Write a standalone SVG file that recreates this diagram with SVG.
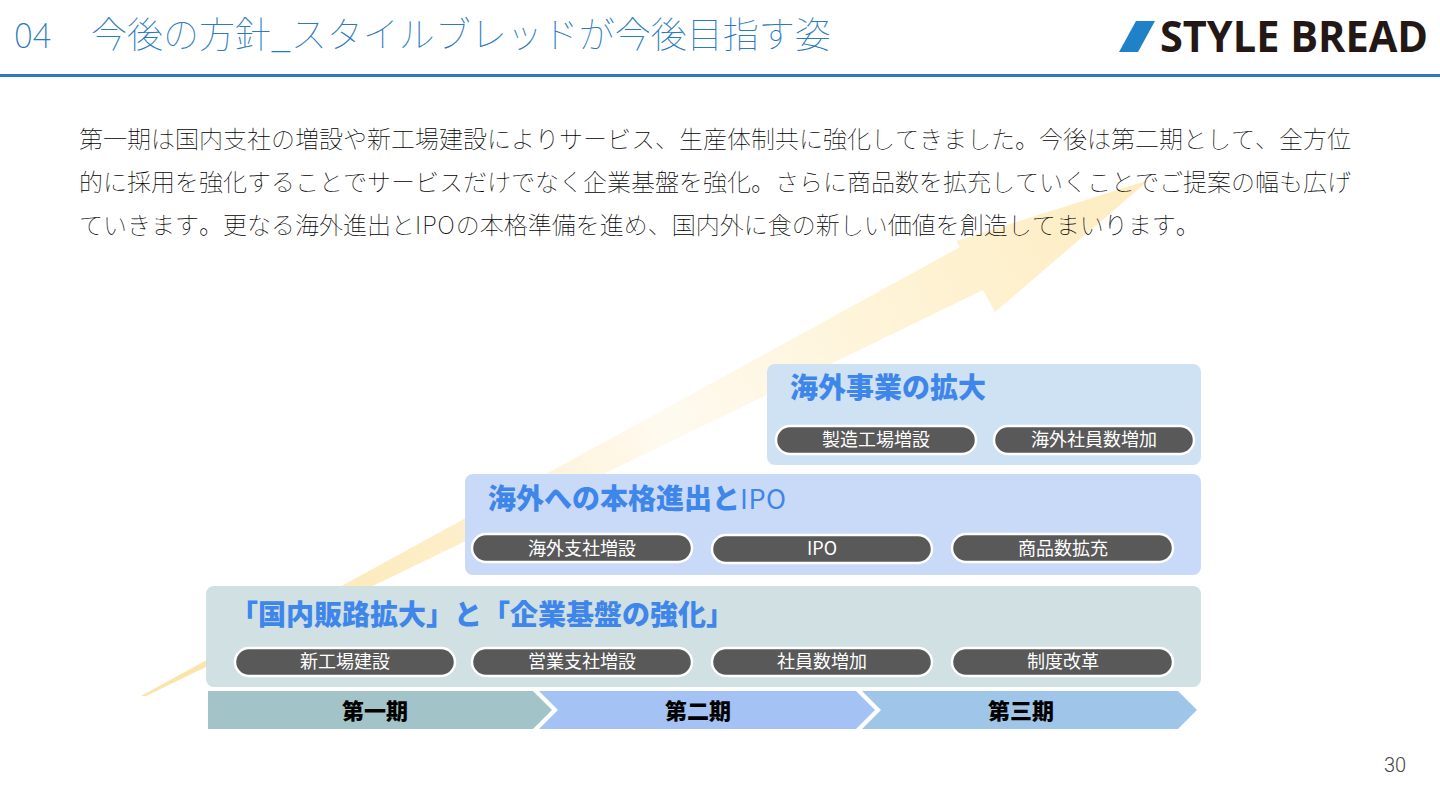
<svg xmlns="http://www.w3.org/2000/svg" width="1440" height="810" viewBox="0 0 1440 810">
<style>
text{font-family:"Noto Sans CJK JP","Noto Sans",sans-serif;text-spacing-trim:space-all;font-kerning:none;font-feature-settings:"palt" 0}
.body{font-size:24px;font-weight:100;fill:#000}
.head{font-size:28px;font-weight:900;fill:#3f86ea}
.pill{fill:#595959;stroke:#fff;stroke-width:2.5}
.pt{font-size:18px;fill:#fff;text-anchor:middle;font-weight:400}
.ph{font-size:22px;font-weight:900;fill:#000;text-anchor:middle}
</style>
<defs>
<linearGradient id="ag" gradientUnits="userSpaceOnUse" x1="141" y1="696" x2="1149" y2="180">
<stop offset="0" stop-color="#fbe3a6"/>
<stop offset="0.3" stop-color="#fdeec8"/>
<stop offset="0.52" stop-color="#fffaf0"/>
<stop offset="0.75" stop-color="#fef3d6"/>
<stop offset="1" stop-color="#fdecc0"/>
</linearGradient>
</defs>
<g id="header">
<rect x="0" y="74" width="1440" height="3" fill="#2a7abf"/>
<text x="14" y="48" font-size="36" font-weight="100" fill="#2a7abf">04</text>
<text x="91" y="48" font-size="36" font-weight="100" fill="#2a7abf">今後の方針_スタイルブレッドが今後目指す姿</text>
</g>
<g id="logo">
<polygon points="1119,52 1136,21 1155,21 1138,52" fill="#1f82c9"/>
<text x="1160" y="52" font-size="43" font-weight="700" fill="#231815" textLength="268" lengthAdjust="spacingAndGlyphs" style="font-family:'Open Sans',sans-serif">STYLE BREAD</text>
</g>
<g id="growth-arrow">
<polygon points="141,696 960,247 956,241 1149,180 995,312 983,290 146,696" fill="url(#ag)"/>
</g>
<g id="intro">
<text class="body" x="79" y="148">第一期は国内支社の増設や新工場建設によりサービス、生産体制共に強化してきました。今後は第二期として、全方位</text>
<text class="body" x="79" y="191">的に採用を強化することでサービスだけでなく企業基盤を強化。さらに商品数を拡充していくことでご提案の幅も広げ</text>
<text class="body" x="79" y="234">ていきます。更なる海外進出と<tspan letter-spacing="1">IPO</tspan>の本格準備を進め、国内外に食の新しい価値を創造してまいります。</text>
</g>
<g id="panel-3">
<rect x="767" y="364" width="434" height="101" rx="8" fill="#cfe2f3"/>
<text class="head" x="790" y="398">海外事業の拡大</text>
<rect class="pill" x="776" y="426" width="200" height="28" rx="14"/>
<text class="pt" x="876" y="446">製造工場増設</text>
<rect class="pill" x="994" y="426" width="200" height="28" rx="14"/>
<text class="pt" x="1094" y="446">海外社員数増加</text>
</g>
<g id="panel-2">
<rect x="465" y="474" width="736" height="101" rx="8" fill="#c9daf8"/>
<text class="head" x="488" y="509">海外への本格進出と<tspan font-weight="400" font-size="27" letter-spacing="0.5">IPO</tspan></text>
<rect class="pill" x="472" y="534" width="220" height="28" rx="14"/>
<text class="pt" x="582" y="555">海外支社増設</text>
<rect class="pill" x="712" y="535" width="220" height="28" rx="14"/>
<text class="pt" x="822" y="555">IPO</text>
<rect class="pill" x="952" y="534" width="221" height="28" rx="14"/>
<text class="pt" x="1063" y="555">商品数拡充</text>
</g>
<g id="panel-1">
<rect x="206" y="586" width="995" height="101" rx="8" fill="#d0e0e3"/>
<text class="head" x="230" y="625">「国内販路拡大」と「企業基盤の強化」</text>
<rect class="pill" x="235" y="648" width="220" height="28" rx="14"/>
<text class="pt" x="345" y="668">新工場建設</text>
<rect class="pill" x="472" y="648" width="220" height="28" rx="14"/>
<text class="pt" x="582" y="668">営業支社増設</text>
<rect class="pill" x="712" y="648" width="220" height="28" rx="14"/>
<text class="pt" x="822" y="668">社員数増加</text>
<rect class="pill" x="952" y="648" width="221" height="28" rx="14"/>
<text class="pt" x="1063" y="668">制度改革</text>
</g>
<g id="phase-1">
<polygon points="208,691 533,691 552,710 533,729 208,729" fill="#a2c4c9"/>
<text class="ph" x="375" y="719">第一期</text>
</g>
<g id="phase-2">
<polygon points="539,691 856,691 875,710 856,729 539,729 558,710" fill="#a4c2f4"/>
<text class="ph" x="698" y="719">第二期</text>
</g>
<g id="phase-3">
<polygon points="862,691 1178,691 1197,710 1178,729 862,729 881,710" fill="#9fc5e8"/>
<text class="ph" x="1021" y="719">第三期</text>
</g>
<text id="page" x="1384" y="772" font-size="20" font-weight="300" fill="#444" style="font-family:'Roboto',sans-serif">30</text>
</svg>
